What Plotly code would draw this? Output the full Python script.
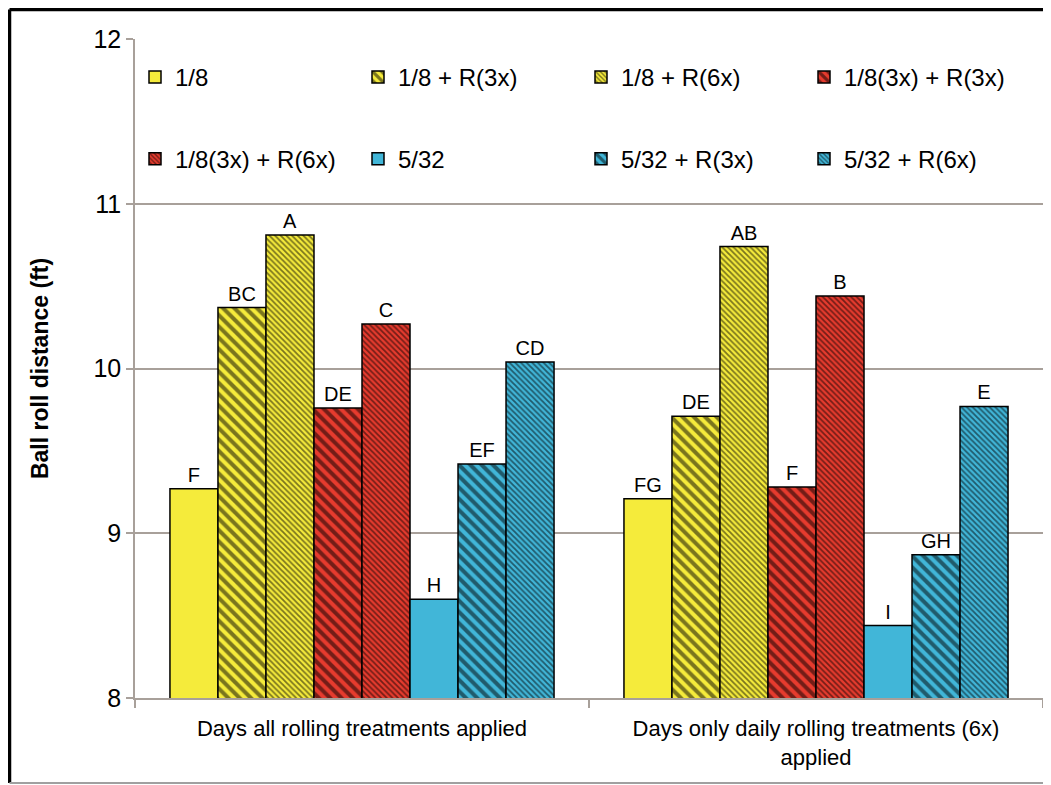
import plotly.graph_objects as go

categories = ["Days all rolling treatments applied",
              "Days only daily rolling treatments (6x)<br>applied"]
series_names = ["1/8", "1/8 + R(3x)", "1/8 + R(6x)", "1/8(3x) + R(3x)",
                "1/8(3x) + R(6x)", "5/32", "5/32 + R(3x)", "5/32 + R(6x)"]
values = [
    [9.27, 9.21],
    [10.37, 9.71],
    [10.81, 10.74],
    [9.76, 9.28],
    [10.27, 10.44],
    [8.60, 8.44],
    [9.42, 8.87],
    [10.04, 9.77],
]
letters = [
    ["F", "FG"],
    ["BC", "DE"],
    ["A", "AB"],
    ["DE", "F"],
    ["C", "B"],
    ["H", "I"],
    ["EF", "GH"],
    ["CD", "E"],
]

YELLOW = "#F5EB3B"
RED = "#E63B2E"
CYAN = "#41B6D8"
fills = [YELLOW, YELLOW, YELLOW, RED, RED, CYAN, CYAN, CYAN]
hatch = [None, "wide", "fine", "wide", "fine", None, "wide", "fine"]

FONT = "Liberation Sans, Arial, sans-serif"

W, H = 1043, 777
ML, MR, MT, MB = 127, 8, 31, 87
PW, PH = W - ML - MR, H - MT - MB

fig = go.Figure()
for i, name in enumerate(series_names):
    if hatch[i] is None:
        pattern = dict(shape="")
    elif hatch[i] == "wide":
        pattern = dict(shape="\\", fgcolor="black", bgcolor=fills[i],
                       size=8, solidity=0.5, fillmode="overlay")
    else:
        pattern = dict(shape="\\", fgcolor="black", bgcolor=fills[i],
                       size=4, solidity=0.45, fillmode="overlay")
    fig.add_trace(go.Bar(
        name=name,
        x=categories,
        y=values[i],
        text=letters[i],
        textposition="outside",
        textfont=dict(family=FONT, size=20, color="black"),
        cliponaxis=False,
        marker=dict(color=fills[i], line=dict(color="black", width=1.5),
                    pattern=pattern),
        legend="legend" if i < 4 else "legend2",
    ))

leg_common = dict(
    orientation="h", xanchor="left", yanchor="top",
    entrywidth=178, entrywidthmode="pixels",
    font=dict(family=FONT, size=24, color="black"),
    bgcolor="rgba(0,0,0,0)", itemwidth=30, traceorder="normal",
)

fig.update_layout(
    width=W, height=H,
    margin=dict(l=ML, r=MR, t=MT, b=MB, autoexpand=False),
    paper_bgcolor="white", plot_bgcolor="white",
    barmode="group", bargap=0.154, bargroupgap=0,
    font=dict(family=FONT, color="black"),
    legend=dict(x=0, y=0.976, **leg_common),
    legend2=dict(x=0, y=0.852, **leg_common),
    xaxis=dict(
        showline=True, linecolor="#A8A09A", linewidth=1.5,
        ticks="outside", tickson="boundaries", ticklen=8,
        tickcolor="#A8A09A", tickwidth=1.5,
        tickfont=dict(family=FONT, size=22, color="black"),
        ticklabelstandoff=10,
        showgrid=False,
    ),
    yaxis=dict(
        range=[8, 12], dtick=1, tick0=8,
        showline=True, linecolor="#A8A09A", linewidth=1.5,
        ticks="outside", ticklen=7, tickcolor="#A8A09A", tickwidth=1.5,
        showgrid=True, gridcolor="#A8A09A", gridwidth=1.5,
        zeroline=False,
        tickfont=dict(family=FONT, size=25, color="black"),
        title=dict(text="<b>Ball roll distance (ft)</b>",
                   font=dict(family=FONT, size=23, color="black"),
                   standoff=38),
    ),
)

# outer frame at the figure edges
xl = (1.5 - ML) / PW
yt = 1 + (MT - 1.5) / PH
yb = (PH + MT - (H - 2)) / PH
fig.add_shape(type="line", xref="paper", yref="paper",
              x0=xl, x1=xl, y0=yb, y1=yt,
              line=dict(color="black", width=3.5))
fig.add_shape(type="line", xref="paper", yref="paper",
              x0=xl, x1=1 + MR / PW, y0=yt, y1=yt,
              line=dict(color="black", width=3.5))
fig.add_shape(type="line", xref="paper", yref="paper",
              x0=xl, x1=1 + MR / PW, y0=yb, y1=yb,
              line=dict(color="#A0A0A0", width=2))

fig.write_html("out.html")
